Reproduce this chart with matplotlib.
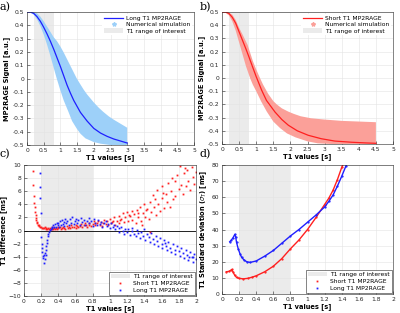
import numpy as np
import matplotlib
matplotlib.use("Agg")
import matplotlib.pyplot as plt
from matplotlib.patches import Patch
from matplotlib.lines import Line2D

# ---- panel a: long T1 MP2RAGE signal
a_t1 = [0.0, 0.1, 0.2, 0.3, 0.4, 0.5, 0.6, 0.7, 0.8, 0.9, 1.0, 1.1, 1.2, 1.3, 1.4, 1.5, 1.6, 1.8, 2.0, 2.2, 2.4, 2.6, 2.8, 3.0]
a_sig = [0.5, 0.5, 0.49, 0.465, 0.43, 0.385, 0.335, 0.28, 0.22, 0.155, 0.09, 0.02, -0.05, -0.11, -0.165, -0.21, -0.255, -0.32, -0.375, -0.41, -0.435, -0.455, -0.47, -0.485]
a_hi_x = [0.0, 0.1, 0.2, 0.3, 0.4, 0.5, 0.64, 0.8, 0.9, 1.0, 1.1, 1.2, 1.3, 1.4, 1.49, 1.6, 1.7, 1.8, 1.9, 2.0, 2.15, 2.28, 2.45, 2.6, 2.8, 3.0]
a_hi_y = [0.5, 0.5, 0.5, 0.49, 0.465, 0.43, 0.375, 0.31, 0.28, 0.24, 0.195, 0.145, 0.095, 0.045, 0.0, -0.045, -0.085, -0.12, -0.15, -0.18, -0.22, -0.25, -0.285, -0.31, -0.34, -0.37]
a_lo_x = [0.0, 0.1, 0.2, 0.3, 0.4, 0.5, 0.6, 0.7, 0.8, 0.89, 1.0, 1.1, 1.24, 1.35, 1.49, 1.6, 1.75, 1.99, 2.2, 2.5, 3.0]
a_lo_y = [0.5, 0.495, 0.48, 0.445, 0.395, 0.33, 0.255, 0.17, 0.08, 0.0, -0.09, -0.165, -0.25, -0.32, -0.377, -0.415, -0.45, -0.477, -0.49, -0.5, -0.5]

# ---- panel b: short T1 MP2RAGE signal
b_t1 = [0.0, 0.1, 0.2, 0.3, 0.4, 0.5, 0.6, 0.7, 0.77, 0.9, 1.0, 1.16, 1.3, 1.55, 1.75, 1.94, 2.2, 2.52, 2.9, 3.3, 3.8, 4.2, 4.5]
b_sig = [0.5, 0.5, 0.49, 0.46, 0.415, 0.35, 0.285, 0.22, 0.172, 0.08, 0.01, -0.093, -0.17, -0.258, -0.315, -0.358, -0.4, -0.434, -0.46, -0.478, -0.487, -0.492, -0.495]
b_hi_x = [0.0, 0.1, 0.2, 0.3, 0.4, 0.5, 0.6, 0.75, 0.9, 1.0, 1.11, 1.2, 1.35, 1.5, 1.6, 1.75, 1.94, 2.1, 2.3, 2.6, 3.0, 3.5, 4.0, 4.5]
b_hi_y = [0.5, 0.5, 0.495, 0.48, 0.44, 0.38, 0.33, 0.25, 0.13, 0.065, 0.0, -0.05, -0.12, -0.175, -0.2, -0.23, -0.255, -0.272, -0.29, -0.305, -0.315, -0.325, -0.33, -0.335]
b_lo_x = [0.0, 0.1, 0.2, 0.3, 0.4, 0.5, 0.6, 0.7, 0.82, 0.9, 1.0, 1.15, 1.31, 1.5, 1.7, 1.9, 2.15, 2.5, 2.8, 3.2, 4.5]
b_lo_y = [0.5, 0.495, 0.475, 0.43, 0.36, 0.27, 0.18, 0.09, 0.0, -0.05, -0.1, -0.18, -0.255, -0.33, -0.38, -0.42, -0.45, -0.48, -0.495, -0.5, -0.5]

# ---- panel c: T1 difference [ms]
c_short_x = [0.105, 0.11, 0.115, 0.12, 0.125, 0.13, 0.135, 0.14, 0.145, 0.15, 0.155, 0.16, 0.17, 0.18, 0.19, 0.2,
             0.21, 0.22, 0.23, 0.24, 0.25, 0.26, 0.27, 0.28, 0.29, 0.3, 0.31, 0.32, 0.33, 0.34, 0.35, 0.36, 0.37,
             0.38, 0.39, 0.4, 0.42, 0.43, 0.45, 0.46, 0.48, 0.5, 0.51, 0.53, 0.55, 0.56, 0.58, 0.6, 0.61, 0.63,
             0.65, 0.66, 0.68, 0.7, 0.71, 0.73, 0.75, 0.76, 0.78, 0.8, 0.81, 0.83, 0.85, 0.86, 0.88, 0.9, 0.91,
             0.93, 0.95, 0.96, 0.98, 1.0, 1.01, 1.03, 1.05, 1.06, 1.08, 1.1, 1.11, 1.13, 1.15, 1.16, 1.18, 1.2,
             1.21, 1.23, 1.25, 1.26, 1.28, 1.3, 1.31, 1.33, 1.35, 1.36, 1.38, 1.4, 1.41, 1.43, 1.45, 1.46, 1.48,
             1.5, 1.51, 1.53, 1.55, 1.56, 1.58, 1.6, 1.61, 1.63, 1.65, 1.66, 1.68, 1.7, 1.71, 1.73, 1.75, 1.76,
             1.78, 1.8, 1.81, 1.83, 1.85, 1.86, 1.88, 1.9, 1.91, 1.93, 1.95, 1.96, 1.98, 2.0, 1.87, 1.72, 1.62,
             1.52, 1.42, 1.32, 1.22, 1.12, 1.02, 0.92, 0.82, 0.72, 0.62, 0.52, 0.44, 1.47, 1.37]
c_short_y = [9.1, 7.0, 5.3, 4.2, 3.6, 2.9, 2.3, 1.9, 1.6, 1.3, 1.1, 0.9, 0.8, 0.7, 0.6, 0.5,
             0.45, 0.4, 0.35, 0.5, 0.3, 0.4, 0.2, 0.35, 0.25, 0.4, 0.3, 0.2, 0.5, 0.3, 0.35, 0.25, 0.45,
             0.3, 0.6, 0.35, 0.5, 0.25, 0.6, 0.4, 0.3, 0.7, 0.45, 0.35, 0.8, 0.5, 0.6, 0.4, 0.9, 0.55,
             0.7, 1.0, 0.5, 0.8, 1.1, 0.6, 0.9, 1.2, 0.7, 1.0, 1.4, 0.8, 1.1, 1.5, 0.9, 1.3, 0.7,
             1.6, 1.0, 1.4, 0.8, 1.7, 1.1, 1.4, 2.0, 0.9, 1.5, 2.2, 1.2, 1.8, 2.6, 1.3, 2.0, 2.8,
             1.5, 2.2, 3.0, 1.6, 2.5, 1.2, 3.2, 2.0, 3.6, 1.4, 2.7, 4.0, 2.1, 3.3, 1.8, 4.4, 2.9,
             5.4, 3.6, 2.4, 6.2, 4.1, 3.0, 5.0, 6.8, 3.5, 5.6, 4.3, 7.2, 3.6, 6.0, 4.8, 7.6, 5.3,
             8.5, 6.4, 9.9, 7.0, 5.5, 8.8, 6.8, 9.3, 7.6, 6.2, 9.7, 8.2, 7.1, 9.0, 9.6, 8.0, 5.8,
             4.8, 3.1, 2.6, 2.4, 1.6, 1.3, 1.2, 1.1, 0.9, 0.7, 0.6, 0.4, -0.3, 0.9]
c_long_x = [0.185, 0.188, 0.19, 0.193, 0.2, 0.205, 0.21, 0.215, 0.22, 0.225, 0.23, 0.235, 0.24, 0.245, 0.25,
            0.255, 0.26, 0.265, 0.27, 0.275, 0.28, 0.29, 0.3, 0.31, 0.32, 0.33, 0.34, 0.35, 0.36, 0.37, 0.38,
            0.39, 0.4, 0.41, 0.42, 0.43, 0.44, 0.45, 0.46, 0.47, 0.48, 0.49, 0.5, 0.52, 0.53, 0.55, 0.56, 0.58,
            0.59, 0.6, 0.62, 0.63, 0.65, 0.66, 0.68, 0.7, 0.71, 0.73, 0.75, 0.76, 0.78, 0.8, 0.81, 0.83, 0.85,
            0.86, 0.88, 0.9, 0.91, 0.93, 0.95, 0.96, 0.98, 1.0, 1.01, 1.03, 1.05, 1.06, 1.08, 1.1, 1.11, 1.13,
            1.15, 1.16, 1.18, 1.2, 1.21, 1.23, 1.25, 1.26, 1.28, 1.3, 1.31, 1.33, 1.35, 1.36, 1.38, 1.4, 1.41,
            1.43, 1.45, 1.46, 1.48, 1.5, 1.51, 1.53, 1.55, 1.56, 1.58, 1.6, 1.61, 1.63, 1.65, 1.66, 1.68, 1.7,
            1.71, 1.73, 1.75, 1.76, 1.78, 1.8, 1.81, 1.83, 1.85, 1.86, 1.88, 1.9, 1.91, 1.93, 1.95, 1.96, 1.98,
            2.0, 1.97, 1.92, 1.64]
c_long_y = [8.8, 6.6, 5.0, 2.7, -1.0, -2.0, -2.6, -3.3, -3.9, -4.2, -5.0, -3.7, -4.4, -3.4, -3.8,
            -2.9, -2.3, -1.9, -1.4, -0.9, -0.6, -0.3, 0.1, 0.3, 0.6, 0.4, 0.9, 0.6, 1.0, 0.5, 1.2,
            0.8, 1.1, 0.6, 1.4, 0.9, 1.6, 1.0, 1.3, 0.7, 1.8, 1.1, 1.5, 0.9, 1.7, 1.2, 2.0, 1.0,
            1.5, 1.8, 1.1, 1.6, 0.8, 1.9, 1.3, 1.6, 0.9, 1.5, 1.9, 1.1, 1.4, 0.7, 1.7, 1.2, 0.9,
            1.6, 1.0, 1.3, 0.5, 1.1, 1.5, 0.7, 1.0, 0.4, 1.2, 0.6, 0.9, 0.2, 0.7, 0.4, -0.2, 0.5,
            0.0, -0.5, 0.3, -0.3, 0.2, -0.7, -0.1, 0.4, -0.5, -0.9, 0.1, -0.4, -1.2, -0.2, -0.8, 0.3, -1.4,
            -0.6, -1.0, -1.8, -0.4, -1.3, -2.0, -0.9, -1.6, -2.4, -1.2, -2.0, -2.7, -1.5, -2.3, -3.0, -1.8, -2.6,
            -3.3, -2.1, -2.9, -3.6, -2.4, -3.2, -3.9, -2.7, -3.5, -4.2, -3.0, -3.8, -4.5, -3.3, -4.1, -4.8, -3.6,
            -4.4, -4.0, -4.1, -1.9]

# ---- panel d: T1 standard deviation [ms]
d_short_x = [0.05, 0.08, 0.1, 0.115, 0.13, 0.15, 0.17, 0.2, 0.25, 0.3, 0.35, 0.4, 0.5, 0.6, 0.7, 0.8, 0.9, 1.0, 1.1, 1.2, 1.25, 1.3, 1.35, 1.4, 1.42]
d_short_y = [13.8, 14.0, 14.6, 15.2, 13.5, 11.5, 10.3, 9.7, 9.4, 9.7, 10.4, 11.3, 13.8, 17.2, 22.0, 28.0, 33.5, 40.0, 47.5, 55.5, 59.5, 64.5, 71.0, 78.5, 81.0]
d_long_x = [0.09, 0.11, 0.13, 0.15, 0.16, 0.17, 0.19, 0.21, 0.23, 0.26, 0.29, 0.33, 0.4, 0.5, 0.6, 0.7, 0.8, 0.9, 1.0, 1.1, 1.2, 1.25, 1.3, 1.35, 1.4, 1.45, 1.46]
d_long_y = [32.4, 33.5, 35.0, 37.0, 35.5, 32.0, 28.0, 25.0, 22.7, 21.0, 20.0, 19.6, 20.5, 23.5, 27.0, 31.5, 36.0, 40.0, 44.5, 49.0, 54.0, 57.5, 61.5, 67.0, 73.0, 79.5, 81.0]

roi = (0.2, 0.8)

BLUE = "#1f1fff"
RED = "#ff2020"
LBLUE = "#9dd0f9"
LRED = "#fba099"
GRAY = "#ebebeb"

plt.rcParams["font.family"] = "DejaVu Sans"
fig = plt.figure(figsize=(4.0, 3.13), dpi=100)


def style(ax):
    ax.tick_params(direction="in", length=2, width=0.4, labelsize=4.3, pad=2, colors="#262626")
    for s in ax.spines.values():
        s.set_linewidth(0.4)
        s.set_color("#262626")
    ax.grid(True, color="#e3e3e3", linewidth=0.4)
    ax.set_axisbelow(True)


def band(ax, hx, hy, lx, ly, color):
    # closed outline: upper edge left->right, lower edge right->left
    px = list(hx) + list(lx)[::-1]
    py = list(hy) + list(ly)[::-1]
    ax.fill(px, py, color=color, lw=0, zorder=1)


sig_ticks = ["-0.5", "-0.4", "-0.3", "-0.2", "-0.1", "0", "0.1", "0.2", "0.3", "0.4", "0.5"]
t1_ticks5 = ["0", "0.5", "1", "1.5", "2", "2.5", "3", "3.5", "4", "4.5", "5"]
t1_ticks2 = ["0", "0.2", "0.4", "0.6", "0.8", "1", "1.2", "1.4", "1.6", "1.8", "2"]

# a
ax = fig.add_axes([0.0675, 0.5367, 0.4175, 0.425])
style(ax)
ax.axvspan(roi[0], roi[1], color=GRAY, lw=0, zorder=0.5)
band(ax, a_hi_x, a_hi_y, a_lo_x, a_lo_y, LBLUE)
ax.plot(a_t1, a_sig, color=BLUE, lw=0.9, zorder=2)
ax.set_xlim(0, 5); ax.set_ylim(-0.5, 0.5)
ax.set_xticks(np.arange(0, 5.01, 0.5)); ax.set_xticklabels(t1_ticks5)
ax.set_yticks(np.arange(-0.5, 0.51, 0.1)); ax.set_yticklabels(sig_ticks)
ax.set_xlabel("T1 values [s]", fontsize=4.8, fontweight="bold", labelpad=1)
ax.set_ylabel("MP2RAGE Signal [a.u.]", fontsize=4.8, fontweight="bold", labelpad=2)
h = [Line2D([], [], color=BLUE, lw=0.9),
     Line2D([], [], color=LBLUE, marker="*", ls="none", ms=3),
     Patch(facecolor=GRAY, edgecolor="none")]
ax.legend(h, ["Long T1 MP2RAGE", "Numerical simulation", "T1 range of interest"], loc="upper right",
          fontsize=4.3, frameon=True, facecolor="white", edgecolor="none", framealpha=1,
          handlelength=3.2, borderpad=0.3, labelspacing=0.2, handletextpad=0.5, borderaxespad=0.3)
fig.text(0.0, 0.995, "a)", fontsize=8, family="DejaVu Serif", va="top")

# b
ax = fig.add_axes([0.555, 0.54, 0.4275, 0.4217])
style(ax)
ax.axvspan(roi[0], roi[1], color=GRAY, lw=0, zorder=0.5)
band(ax, b_hi_x, b_hi_y, b_lo_x, b_lo_y, LRED)
ax.plot(b_t1, b_sig, color=RED, lw=0.9, zorder=2)
ax.set_xlim(0, 5); ax.set_ylim(-0.5, 0.5)
ax.set_xticks(np.arange(0, 5.01, 0.5)); ax.set_xticklabels(t1_ticks5)
ax.set_yticks(np.arange(-0.5, 0.51, 0.1)); ax.set_yticklabels(sig_ticks)
ax.set_xlabel("T1 values [s]", fontsize=4.8, fontweight="bold", labelpad=1)
ax.set_ylabel("MP2RAGE Signal [a.u.]", fontsize=4.8, fontweight="bold", labelpad=2)
h = [Line2D([], [], color=RED, lw=0.9),
     Line2D([], [], color=LRED, marker="*", ls="none", ms=3),
     Patch(facecolor=GRAY, edgecolor="none")]
ax.legend(h, ["Short T1 MP2RAGE", "Numerical simulation", "T1 range of interest"], loc="upper right",
          fontsize=4.3, frameon=True, facecolor="white", edgecolor="none", framealpha=1,
          handlelength=3.2, borderpad=0.3, labelspacing=0.2, handletextpad=0.5, borderaxespad=0.3)
fig.text(0.5, 0.995, "b)", fontsize=8, family="DejaVu Serif", va="top")

# c
ax = fig.add_axes([0.06, 0.0543, 0.43, 0.4185])
style(ax)
ax.axvspan(roi[0], roi[1], color=GRAY, lw=0, zorder=0.5)
ax.axhline(0, color="black", lw=0.6, zorder=1)
ax.plot(c_short_x, c_short_y, ls="none", marker="s", ms=1.3, mew=0, color=RED, zorder=2)
ax.plot(c_long_x, c_long_y, ls="none", marker="s", ms=1.3, mew=0, color=BLUE, zorder=2)
ax.set_xlim(0, 2); ax.set_ylim(-10, 10)
ax.set_xticks(np.arange(0, 2.01, 0.2)); ax.set_xticklabels(t1_ticks2)
ax.set_yticks(np.arange(-10, 10.1, 2))
ax.set_xlabel("T1 values [s]", fontsize=4.8, fontweight="bold", labelpad=1)
ax.set_ylabel("T1 difference [ms]", fontsize=4.8, fontweight="bold", labelpad=1)
h = [Patch(facecolor=GRAY, edgecolor="none"),
     Line2D([], [], color=RED, marker="s", ls="none", ms=1.3, mew=0),
     Line2D([], [], color=BLUE, marker="s", ls="none", ms=1.3, mew=0)]
leg = ax.legend(h, ["T1 range of interest", "Short T1 MP2RAGE", "Long T1 MP2RAGE"], loc="lower right",
                fontsize=4.3, frameon=True, facecolor="white", edgecolor="#262626", framealpha=1, fancybox=False,
                handlelength=3.2, borderpad=0.35, labelspacing=0.25, handletextpad=0.5, borderaxespad=0.2)
leg.get_frame().set_linewidth(0.4)
fig.text(0.0, 0.525, "c)", fontsize=8, family="DejaVu Serif", va="top")

# d
ax = fig.add_axes([0.555, 0.0607, 0.4275, 0.412])
style(ax)
ax.axvspan(roi[0], roi[1], color=GRAY, lw=0, zorder=0.5)
ax.plot(d_short_x, d_short_y, color=RED, lw=1.0, marker=".", ms=1.2, zorder=2)
ax.plot(d_long_x, d_long_y, color=BLUE, lw=1.0, marker=".", ms=1.2, zorder=2)
ax.set_xlim(0, 2); ax.set_ylim(0, 80)
ax.set_xticks(np.arange(0, 2.01, 0.2)); ax.set_xticklabels(t1_ticks2)
ax.set_yticks(np.arange(0, 81, 10))
ax.set_xlabel("T1 values [s]", fontsize=4.8, fontweight="bold", labelpad=1)
ax.set_ylabel(r"T1 Standard deviation ($\sigma_T$) [ms]", fontsize=4.8, fontweight="bold", labelpad=2)
h = [Patch(facecolor=GRAY, edgecolor="none"),
     Line2D([], [], color=RED, marker="s", ls="none", ms=1.3, mew=0),
     Line2D([], [], color=BLUE, marker="s", ls="none", ms=1.3, mew=0)]
leg = ax.legend(h, ["T1 range of interest", "Short T1 MP2RAGE", "Long T1 MP2RAGE"], loc="lower right",
                fontsize=4.3, frameon=True, facecolor="white", edgecolor="#262626", framealpha=1, fancybox=False,
                handlelength=3.2, borderpad=0.35, labelspacing=0.25, handletextpad=0.5, borderaxespad=0.2)
leg.get_frame().set_linewidth(0.4)
fig.text(0.5, 0.525, "d)", fontsize=8, family="DejaVu Serif", va="top")

fig.savefig("out.png", dpi=100)
